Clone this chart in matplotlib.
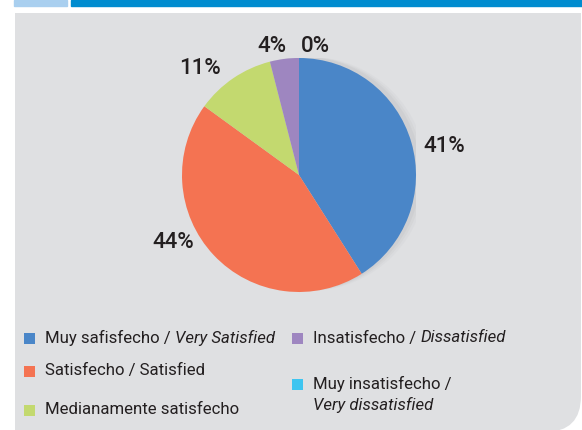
import matplotlib.pyplot as plt
from matplotlib.patches import Rectangle, FancyBboxPatch, Circle

# data
labels = ['Muy safisfecho', 'Satisfecho', 'Medianamente satisfecho', 'Insatisfecho', 'Muy insatisfecho']
values = [41, 44, 11, 4, 0]
pct_labels = ['41%', '44%', '11%', '4%', '0%']
colors = ['#4a86c8', '#f47352', '#c3d96f', '#9e86c0', '#3ec5f0']

W, H = 582, 430
fig = plt.figure(figsize=(W / 100, H / 100), dpi=100)
fig.patch.set_facecolor('white')

def fx(x):
    return x / W

def fy(y):
    return 1 - y / H

# top bars
fig.patches.append(Rectangle((fx(14), fy(6)), fx(53), 6 / H, transform=fig.transFigure,
                             color='#a9cfef', zorder=0))
fig.patches.append(Rectangle((fx(71), fy(6)), fx(520), 6 / H, transform=fig.transFigure,
                             color='#008ccf', zorder=0))

# grey panel, rounded bottom-right corner only
bg = fig.add_axes([0, 0, 1, 1])
bg.set_xlim(0, W)
bg.set_ylim(H, 0)
bg.axis('off')
bg.add_patch(Rectangle((15, 13), 300, 430, color='#dfe0e2', lw=0))
bg.add_patch(Rectangle((15, 13), 581 - 15, 200, color='#dfe0e2', lw=0))
bg.add_patch(FancyBboxPatch((50, 13), 581 - 50, 432 - 13,
                            boxstyle='round,pad=0,rounding_size=36',
                            color='#dfe0e2', lw=0))

# pie
cx, cy, r = 299, 175, 117
ax = fig.add_axes([fx(cx - r), fy(cy + r), 2 * r / W, 2 * r / H])
ax.set_facecolor('none')
# soft shadow upper right
for i, a in enumerate([0.10, 0.08, 0.06]):
    ax.add_patch(Circle((0.04 + i * 0.025, 0.01), 1.0, color='#9a9b9e', alpha=a, lw=0))
ax.pie(values, colors=colors, startangle=90, counterclock=False,
       wedgeprops=dict(linewidth=0))
ax.set_xlim(-1, 1)
ax.set_ylim(-1, 1)
ax.set_aspect('auto')
ax.axis('off')

lab_pos = [(145, 29), (-126, -67), (-99, 107), (-27, 128), (16, 128)]
for t, (dx, dy) in zip(pct_labels, lab_pos):
    fig.text(fx(cx + dx), fy(cy - dy), t, ha='center', va='center',
             fontsize=16, family='Roboto', fontweight='medium', color='#231f20')

# legend
txt = dict(fontsize=12.1, family='Roboto', color='#231f20', va='center')
entries = [
    (29, 338, 45, [('Muy safisfecho / ', 'normal'), ('Very Satisfied', 'italic')]),
    (29, 371, 45, [('Satisfecho / Satisfied', 'normal')]),
    (29, 410, 45, [('Medianamente satisfecho', 'normal')]),
    (297, 338, 313, [('Insatisfecho / ', 'normal'), ('Dissatisfied', 'italic')]),
    (297, 384, 313, [('Muy insatisfecho /', 'normal')]),
]
for i, (mx, my, tx, parts) in enumerate(entries):
    bg.add_patch(Rectangle((mx - 5.5, my - 5.5), 11, 11, color=colors[i], lw=0))
    x = tx
    for s, style in parts:
        t = bg.text(x, my, s, style=style, **txt)
        fig.canvas.draw()
        bb = t.get_window_extent()
        x += bb.width
bg.text(313, 405, 'Very dissatisfied', style='italic', **txt)

fig.savefig('out.png', dpi=100, facecolor='white')
